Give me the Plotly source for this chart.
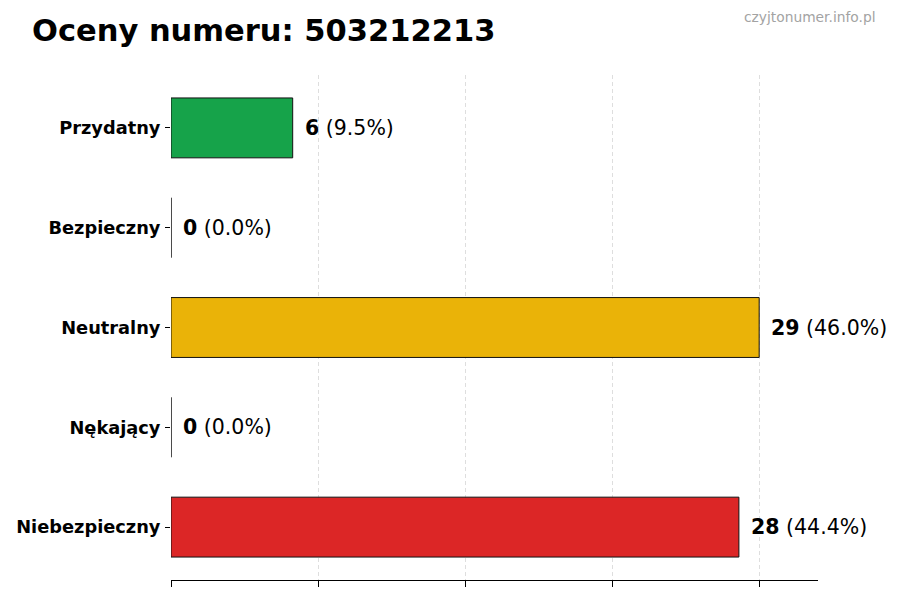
import plotly.graph_objects as go

categories = ["Przydatny", "Bezpieczny", "Neutralny", "Nękający", "Niebezpieczny"]
values = [6, 0, 29, 0, 28]
colors = ["#16a34a", "#9ca3af", "#eab308", "#f97316", "#dc2626"]
title = "Oceny numeru: 503212213"
watermark = "czyjtonumer.info.pl"

total = sum(values)
vmax = max(values)
font = "DejaVu Sans"

fig = go.Figure()
fig.add_trace(go.Bar(
    y=categories, x=values, orientation="h", width=0.6,
    marker=dict(color=colors, line=dict(color="#111111", width=1)),
    hoverinfo="skip", showlegend=False,
))

for c, v in zip(categories, values):
    pct = 100 * v / total if total else 0
    fig.add_annotation(
        x=v, y=c, xref="x", yref="y", xanchor="left", yanchor="middle",
        xshift=10, showarrow=False,
        text=f"<b>{v}</b> ({pct:.1f}%)",
        font=dict(family=font, size=20.5, color="#000000"),
    )

pw, ph = 900 - 171 - 82, 600 - 75 - 20

fig.update_layout(
    width=900, height=600,
    margin=dict(l=171, r=82, t=75, b=20),
    paper_bgcolor="white", plot_bgcolor="white",
    title=dict(text=f"<b>{title}</b>", xref="container", x=32 / 900, xanchor="left",
               yref="container", y=1 - 30 / 600, yanchor="middle",
               font=dict(family=font, size=30.5, color="#000000")),
    font=dict(family=font),
)

fig.add_annotation(
    x=(878 - 171) / pw, y=(600 - 17 - 20) / ph, xref="paper", yref="paper",
    xanchor="right", yanchor="middle", showarrow=False, text=watermark,
    font=dict(family=font, size=13.8, color="#a3a3a3"),
)

fig.update_xaxes(
    range=[0, vmax * 1.1],
    tickvals=[vmax * i / 4 for i in range(5)],
    showticklabels=False, ticks="outside", ticklen=6, tickcolor="#000000",
    showgrid=True, gridcolor="#dedede", griddash="4px,3px", gridwidth=0.8,
    showline=True, linecolor="#000000", linewidth=1,
    zeroline=False, layer="above traces", fixedrange=True,
)
fig.update_yaxes(
    categoryorder="array", categoryarray=categories[::-1],
    range=[-0.53, 4.53],
    ticks="outside", ticklen=5, tickcolor="#000000",
    ticklabelstandoff=1,
    tickfont=dict(family=font, size=17.8, color="#000000"),
    showgrid=False, showline=False, zeroline=False, fixedrange=True,
    tickprefix="<b>", ticksuffix="</b>",
)

fig.write_html("out.html", config={"displayModeBar": False},
               post_script="document.body.style.margin='0';")
